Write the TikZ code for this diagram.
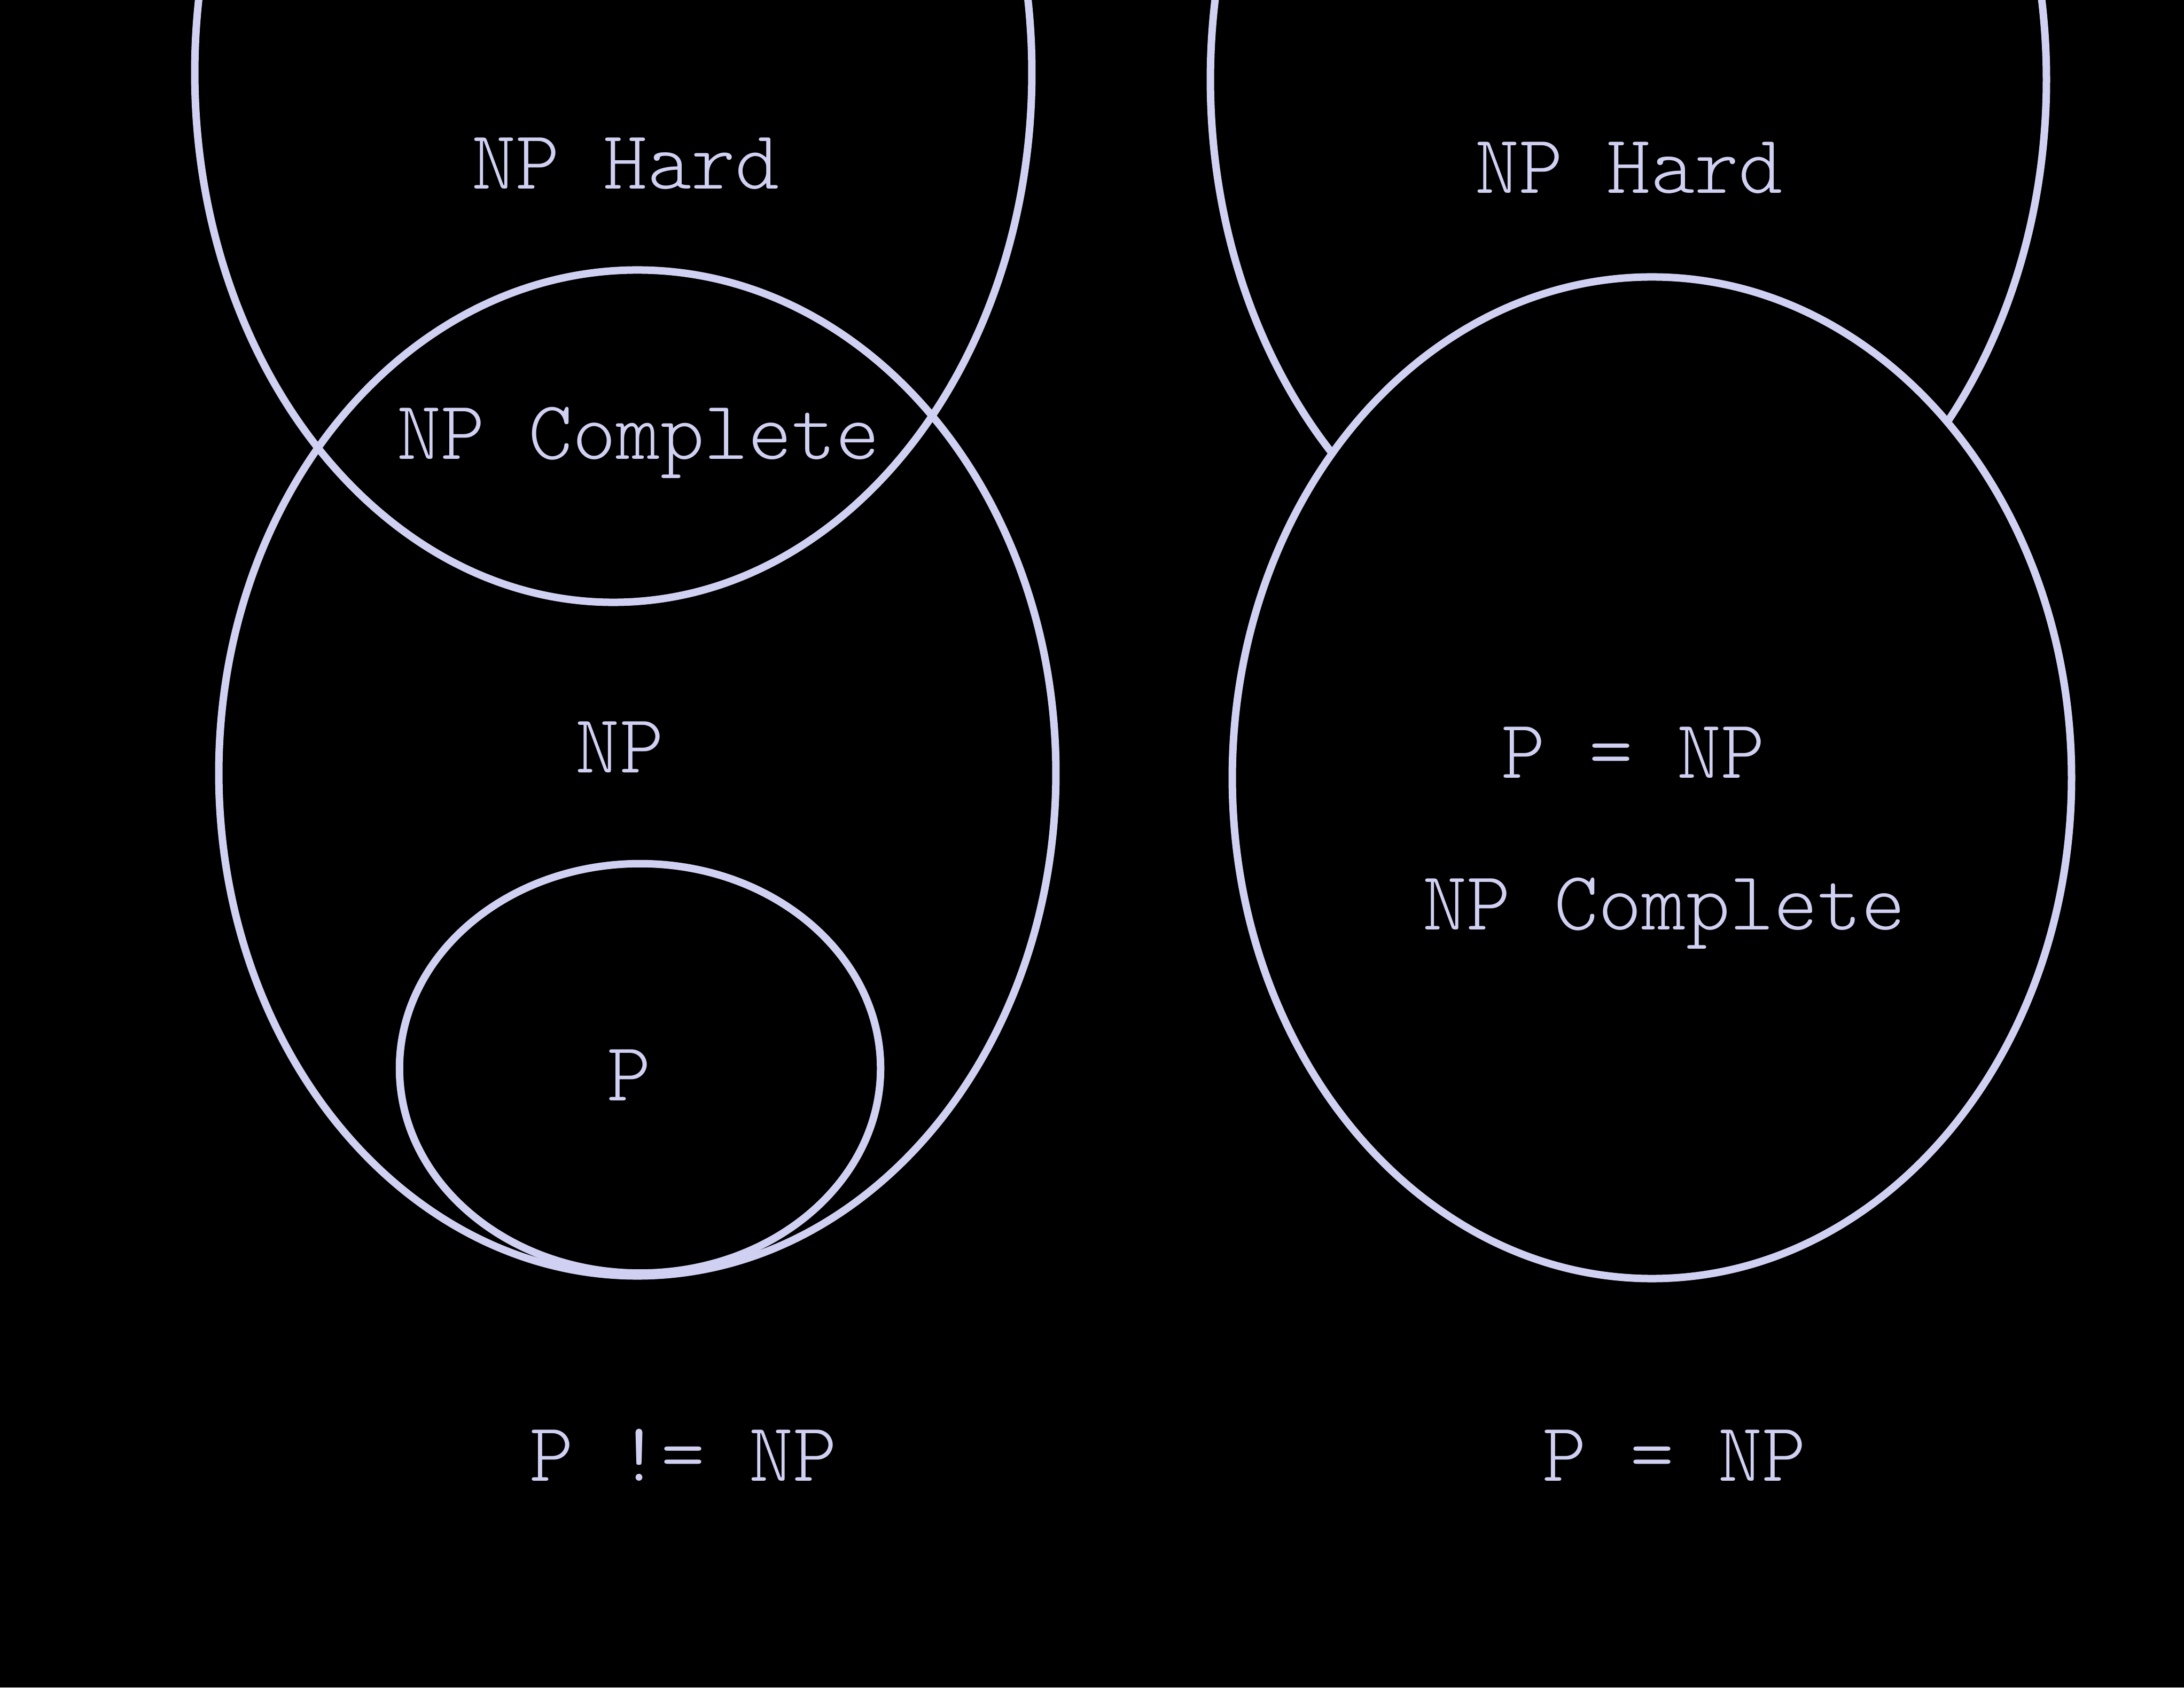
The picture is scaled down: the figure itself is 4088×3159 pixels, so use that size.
\documentclass[tikz,border=0pt]{standalone}
\usepackage{fontspec}
\newfontfamily\lblfont{lmmonolt10-regular.otf}
\definecolor{lav}{RGB}{208,208,242}
\begin{document}
\begin{tikzpicture}[x=0.01cm,y=0.01cm,
  ring/.style={draw=lav,line width=0.14cm},
  lbl/.style={text=lav,font=\lblfont\fontsize{44.5}{50}\selectfont,anchor=base,inner sep=0pt}]
\fill[black] (0,0) rectangle (4088,3159);
\useasboundingbox (0,0) rectangle (4088,3159);
% centres
\coordinate (hardL) at (1148,3023);
\coordinate (npL) at (1193,1712);
\coordinate (pL) at (1198,1159);
\coordinate (hardR) at (3048,3010);
\coordinate (eqR) at (3092,1703);
% left diagram
\draw[ring] (hardL) ellipse [x radius=7.83cm, y radius=9.91cm];
\draw[ring] (npL) ellipse [x radius=7.83cm, y radius=9.41cm];
\draw[ring] (pL) ellipse [x radius=4.50cm, y radius=3.83cm];
% right diagram
\draw[ring] (hardR) ellipse [x radius=7.82cm, y radius=9.91cm];
\filldraw[ring,fill=black] (eqR) ellipse [x radius=7.85cm, y radius=9.37cm];
% labels
\node[lbl] (tHardL) at (1171,2805) {NP Hard};
\node[lbl] (tCompL) at (1195,2299) {NP Complete};
\node[lbl] (tNPL) at (1160,1712) {NP};
\node[lbl] (tPL) at (1178,1099) {P};
\node[lbl] (tNeq) at (1279,387) {P != NP};
\node[lbl] (tHardR) at (3049,2797) {NP Hard};
\node[lbl] (tEqIn) at (3057,1702) {P = NP};
\node[lbl] (tCompR) at (3115,1419) {NP Complete};
\node[lbl] (tEq) at (3134,387) {P = NP};
\end{tikzpicture}
\end{document}
